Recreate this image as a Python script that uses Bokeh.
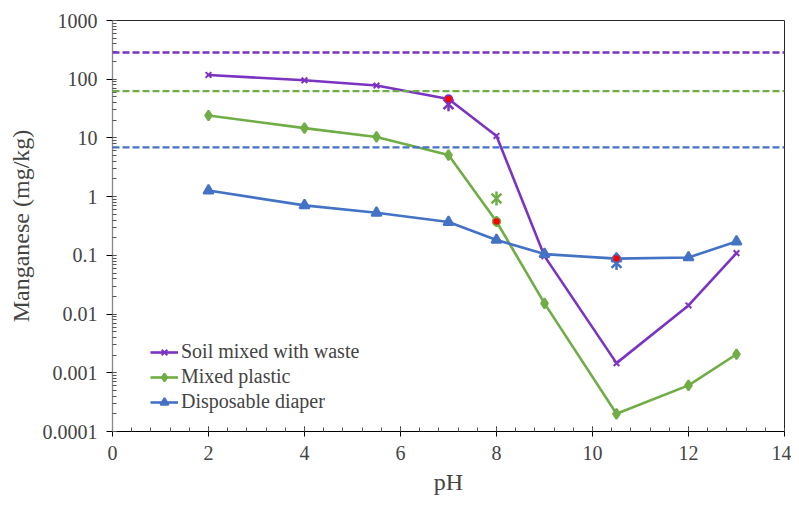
import math
from bokeh.plotting import figure
from bokeh.models import (Range1d, Span, Legend, LegendItem, SingleIntervalTicker,
                          LogTicker, CustomJSTickFormatter)
from bokeh.embed import file_html
from bokeh.resources import INLINE

# ---- data ----
ph = [2, 4, 5.5, 7, 8, 9, 10.5, 12, 13]
soil = [118, 96, 78, 46, 10.8, 0.097, 0.00146, 0.014, 0.109]
plastic = [24.1, 14.7, 10.4, 5.1, 0.377, 0.0152, 0.0002, 0.00061, 0.00207]
diaper = [1.27, 0.71, 0.53, 0.37, 0.183, 0.105, 0.088, 0.092, 0.172]
series_names = ["Soil mixed with waste", "Mixed plastic", "Disposable diaper"]

limit_values = [285, 62.5, 6.9]          # dashed reference levels (soil, plastic, diaper)
star_ph = [7, 8, 10.5]
star_values = [37.5, 0.93, 0.074]
dot_ph = [7, 8, 10.5]
dot_values = [46, 0.377, 0.088]

x_min, x_max = 0, 14
y_min, y_max = 0.0001, 1000

# ---- style ----
colors = ["#7B33C2", "#70AD47", "#4472C4"]
markers = ["x", "diamond", "triangle"]
marker_sizes = [8, 10, 10]
F = "Liberation Serif"

p = figure(width=791, height=497, y_axis_type="log",
           x_range=Range1d(x_min, x_max), y_range=Range1d(y_min, y_max),
           output_backend="svg", toolbar_location=None,
           min_border_left=112, min_border_right=7, min_border_top=20,
           min_border_bottom=66)
p.xgrid.visible = False
p.ygrid.visible = False
p.outline_line_color = "#262626"

# dashed reference lines
for val, c in zip(limit_values, colors):
    p.add_layout(Span(location=val, dimension="width", line_color=c,
                      line_width=2.3, line_dash="7 3"))

items = []
for name, vals, c, m, s in zip(series_names, [soil, plastic, diaper], colors, markers, marker_sizes):
    ln = p.line(ph, vals, line_color=c, line_width=2.6)
    sc = p.scatter(ph, vals, marker=m, size=s, line_color=c, fill_color=c, line_width=2)
    items.append(LegendItem(label=name, renderers=[ln, sc]))

# asterisk markers (six-armed): x + vertical dash
p.scatter(star_ph, star_values, marker="x", size=14, line_color=colors, line_width=2.5)
p.scatter(star_ph, star_values, marker="dash", angle=math.pi / 2, size=14,
          line_color=colors, line_width=2.5)
# red dots
p.scatter(dot_ph, dot_values, marker="circle", size=8, fill_color="red",
          line_color=colors, line_width=1.5)

legend = Legend(items=items, location=(38, 18))
p.add_layout(legend)
p.legend.label_text_font = F
p.legend.label_text_font_size = "20px"
p.legend.background_fill_alpha = 0
p.legend.border_line_alpha = 0
p.legend.glyph_width = 28
p.legend.glyph_height = 20
p.legend.label_height = 20
p.legend.spacing = 2
p.legend.padding = 0
p.legend.margin = 0
p.legend.label_standoff = 3

# axes
p.xaxis.ticker = SingleIntervalTicker(interval=2, num_minor_ticks=5)
p.xaxis.axis_label = "pH"
p.yaxis.ticker = LogTicker(num_minor_ticks=10)
p.yaxis.formatter = CustomJSTickFormatter(code="""
const e = Math.round(Math.log10(tick));
if (e >= 0) { return "1" + "0".repeat(e); }
return "0." + "0".repeat(-e - 1) + "1";
""")
p.yaxis.axis_label = "Manganese (mg/kg)"

for ax in (p.xaxis, p.yaxis):
    ax.major_label_text_font = F
    ax.axis_label_text_font = F
    ax.major_label_text_font_size = "20px"
    ax.axis_label_text_font_size = "24px"
    ax.axis_label_text_font_style = "normal"
    ax.minor_tick_line_color = "#555555"

p.xaxis.major_label_standoff = 9
p.yaxis.major_label_standoff = 9

p.xaxis.major_tick_in = 5
p.xaxis.major_tick_out = 5
p.xaxis.minor_tick_in = 4
p.xaxis.minor_tick_out = 0
p.xaxis.axis_label_standoff = 6

p.yaxis.axis_line_color = "#888888"
p.yaxis.axis_line_width = 1.3
p.yaxis.major_tick_in = 0
p.yaxis.major_tick_out = 6
p.yaxis.minor_tick_in = 4
p.yaxis.minor_tick_out = 0
p.yaxis.axis_label_standoff = 6

open("out.html", "w").write(file_html(p, INLINE))
